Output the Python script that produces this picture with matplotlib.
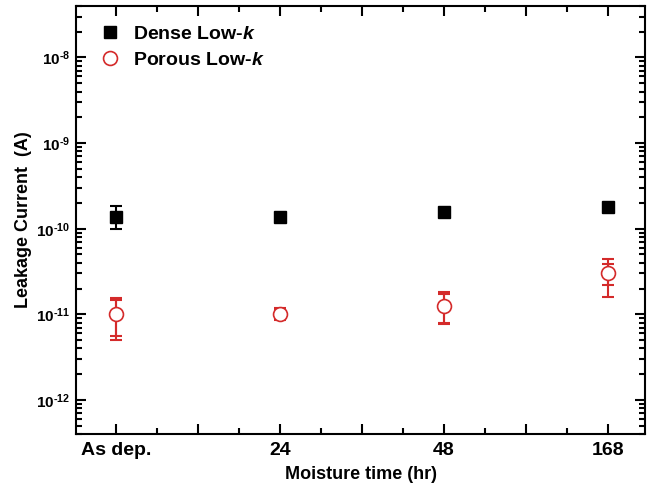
import numpy as np
import matplotlib
matplotlib.use("Agg")
import matplotlib.pyplot as plt
from matplotlib.ticker import LogLocator, FixedLocator, FuncFormatter, NullFormatter

plt.rcParams['font.family'] = ['Liberation Sans', 'DejaVu Sans']
plt.rcParams['font.weight'] = 'bold'
plt.rcParams['axes.unicode_minus'] = False
plt.rcParams['mathtext.fontset'] = 'custom'
plt.rcParams['mathtext.rm'] = 'Liberation Sans:bold'
plt.rcParams['mathtext.bf'] = 'Liberation Sans:bold'
plt.rcParams['mathtext.it'] = 'Liberation Sans:bold:italic'

# data
categories = ['As dep.', '24', '48', '168']
dense = [1.38e-10, 1.37e-10, 1.58e-10, 1.81e-10]
dense_hi = [1.85e-10, 1.45e-10, 1.66e-10, 1.92e-10]
dense_lo = [1.00e-10, 1.30e-10, 1.50e-10, 1.70e-10]

porous = [1.01e-11, 1.01e-11, 1.26e-11, 3.04e-11]
# two sets of error bars visible on the porous points
porous_hi1 = [1.54e-11, 1.20e-11, 1.80e-11, 4.40e-11]
porous_lo1 = [4.97e-12, 0.86e-11, 7.70e-12, 1.60e-11]
porous_hi2 = [1.46e-11, 1.15e-11, 1.75e-11, 3.90e-11]
porous_lo2 = [5.60e-12, 0.90e-11, 7.90e-12, 2.20e-11]

red = '#d42a2a'
x = np.arange(1, len(categories) + 1)

fig = plt.figure(figsize=(6.47, 4.96), dpi=100)
ax = fig.add_axes([0.1175, 0.125, 0.88, 0.863])

dense = np.array(dense)
porous = np.array(porous)

ax.errorbar(x, dense, yerr=[dense - np.array(dense_lo), np.array(dense_hi) - dense],
            fmt='none', ecolor='black', elinewidth=1.5, capsize=4, capthick=1.5, zorder=2)
ax.plot(x, dense, 's', color='black', ms=9, label='Dense Low-$k$', zorder=3)

ax.errorbar(x, porous, yerr=[porous - np.array(porous_lo1), np.array(porous_hi1) - porous],
            fmt='none', ecolor=red, elinewidth=1.5, capsize=4, capthick=1.5, zorder=2)
ax.errorbar(x, porous, yerr=[porous - np.array(porous_lo2), np.array(porous_hi2) - porous],
            fmt='none', ecolor=red, elinewidth=1.5, capsize=4, capthick=1.5, zorder=2)
ax.plot(x, porous, 'o', mfc='white', mec=red, mew=1.2, ms=10, label='Porous Low-$k$', zorder=3)

ax.set_yscale('log')
ax.set_ylim(4e-13, 4e-8)
ax.set_xlim(0.756, 4.23)

ax.xaxis.set_major_locator(FixedLocator(np.arange(1, 4.01, 0.5)))
ax.xaxis.set_minor_locator(FixedLocator(np.arange(0.75, 4.26, 0.25)))
ax.xaxis.set_major_formatter(FuncFormatter(
    lambda v, p: categories[int(v) - 1] if abs(v - round(v)) < 1e-6 else ''))

ax.yaxis.set_major_locator(FixedLocator([1e-12, 1e-11, 1e-10, 1e-9, 1e-8]))
ax.yaxis.set_minor_locator(LogLocator(base=10, subs=np.arange(2, 10), numticks=20))
ax.yaxis.set_major_formatter(FuncFormatter(
    lambda v, p: r'$\mathbf{10^{\text{-}%d}}$' % abs(int(round(np.log10(v))))))
ax.yaxis.set_minor_formatter(NullFormatter())

ax.tick_params(which='both', direction='in', top=True, right=True, width=1.5)
ax.tick_params(which='major', length=7)
ax.tick_params(which='minor', length=4)
ax.tick_params(axis='x', labelsize=14, pad=6)
ax.tick_params(axis='y', labelsize=11, pad=4)
for s in ax.spines.values():
    s.set_linewidth(1.5)

ax.set_xlabel('Moisture time (hr)', fontsize=13, fontweight='bold', labelpad=5)
ax.set_ylabel('Leakage Current  (A)', fontsize=13, fontweight='bold', labelpad=3)

ax.legend(loc='upper left', bbox_to_anchor=(0.008, 0.995), frameon=False, fontsize=14,
          handletextpad=0.6, labelspacing=0.4, handlelength=1.2)

fig.savefig('out.png', dpi=100)
